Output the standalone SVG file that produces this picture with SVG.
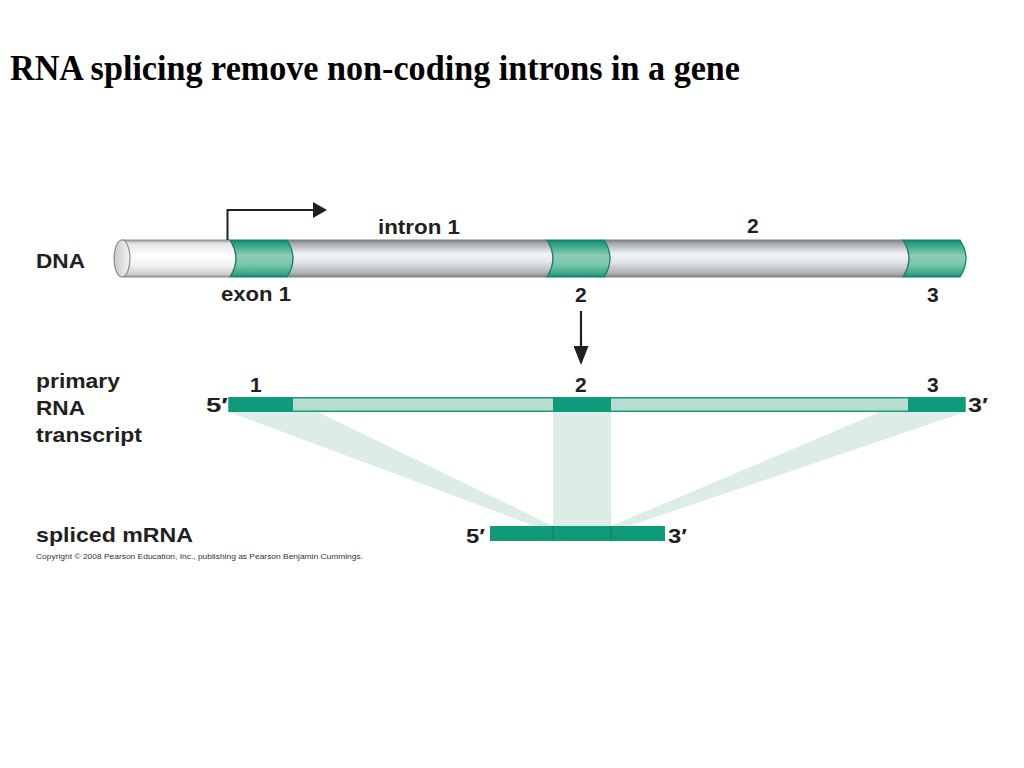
<svg xmlns="http://www.w3.org/2000/svg" width="1024" height="768" viewBox="0 0 1024 768">
  <defs>
    <style>
      .lbl { font-family: "Liberation Sans", Arial, sans-serif; font-weight: bold; font-size: 21px; fill: #231f20; }
      .title { font-family: "Liberation Serif", "Times New Roman", serif; font-weight: bold; font-size: 36px; fill: #000; }
      .copy { font-family: "Liberation Sans", Arial, sans-serif; font-size: 7.5px; fill: #333; }
      .exon { fill: url(#gGreen); stroke: #147c63; stroke-width: 1.2; }
      .intron { fill: url(#gGray); stroke: #7d8185; stroke-width: 1; }
      .rexon { fill: #0f9a7b; }
      .shade { fill: #dcede8; }
      .conn { fill: none; stroke: #231f20; }
    </style>
    <linearGradient id="gGray" x1="0" y1="0" x2="0" y2="1">
      <stop offset="0" stop-color="#7c8084"/>
      <stop offset="0.1" stop-color="#a7abae"/>
      <stop offset="0.38" stop-color="#f3f4f5"/>
      <stop offset="0.6" stop-color="#e2e4e6"/>
      <stop offset="0.88" stop-color="#b2b5b8"/>
      <stop offset="1" stop-color="#84888b"/>
    </linearGradient>
    <linearGradient id="gWhite" x1="0" y1="0" x2="0" y2="1">
      <stop offset="0" stop-color="#a0a0a0"/>
      <stop offset="0.1" stop-color="#e4e4e4"/>
      <stop offset="0.4" stop-color="#ffffff"/>
      <stop offset="0.7" stop-color="#f0f0f0"/>
      <stop offset="0.92" stop-color="#cfcfcf"/>
      <stop offset="1" stop-color="#9a9a9a"/>
    </linearGradient>
    <linearGradient id="gGreen" x1="0" y1="0" x2="0" y2="1">
      <stop offset="0" stop-color="#10866a"/>
      <stop offset="0.12" stop-color="#2ea385"/>
      <stop offset="0.42" stop-color="#8ccdb7"/>
      <stop offset="0.65" stop-color="#7ec5ad"/>
      <stop offset="0.9" stop-color="#3ea98b"/>
      <stop offset="1" stop-color="#14896d"/>
    </linearGradient>
    <linearGradient id="gEnd" x1="0" y1="0" x2="1" y2="0">
      <stop offset="0" stop-color="#c8c8c8"/>
      <stop offset="1" stop-color="#f4f4f4"/>
    </linearGradient>
    <marker id="ahR" markerWidth="14" markerHeight="16" refX="0" refY="8" orient="auto" markerUnits="userSpaceOnUse">
      <path d="M0,0 L14,8 L0,16 Z" fill="#231f20"/>
    </marker>
    <marker id="ahD" markerWidth="19" markerHeight="15" refX="0" refY="7.5" orient="auto" markerUnits="userSpaceOnUse">
      <path d="M0,0 L19,7.5 L0,15 Z" fill="#231f20"/>
    </marker>
  </defs>

  <rect width="1024" height="768" fill="#ffffff"/>

  <text id="title" class="title" x="10" y="80" textLength="730" lengthAdjust="spacingAndGlyphs">RNA splicing remove non-coding introns in a gene</text>

  <!-- splice mapping shades -->
  <g id="splice-map">
    <polygon class="shade" points="229,412 318,412 553,526 535,526"/>
    <rect class="shade" x="553" y="412" width="58" height="114"/>
    <polygon class="shade" points="880,412 965,412 629,526 611,526"/>
  </g>

  <!-- DNA -->
  <g id="dna">
    <path d="M122,240 H230 Q242,258.5 230,277 H122 Z" fill="url(#gWhite)" stroke="#8c8c8c" stroke-width="1"/>
    <ellipse cx="122" cy="258.5" rx="8" ry="18.5" fill="url(#gEnd)" stroke="#8c8c8c" stroke-width="1.2"/>
    <path class="intron" d="M287,240 H547 Q559,258.5 547,277 H287 Q299,258.5 287,240 Z"/>
    <path class="intron" d="M604,240 H903 Q915,258.5 903,277 H604 Q616,258.5 604,240 Z"/>
    <path id="dna-exon1" class="exon" d="M230,240 H287 Q299,258.5 287,277 H230 Q242,258.5 230,240 Z"/>
    <path id="dna-exon2" class="exon" d="M547,240 H604 Q616,258.5 604,277 H547 Q559,258.5 547,240 Z"/>
    <path id="dna-exon3" class="exon" d="M903,240 H960 Q972,258.5 960,277 H903 Q915,258.5 903,240 Z"/>
  </g>

  <!-- primary RNA transcript -->
  <g id="primary-transcript">
    <rect x="229" y="397.75" width="736" height="13.5" fill="#b6ddd0" stroke="#1b9b7e" stroke-width="1.5"/>
    <rect class="rexon" x="229" y="397" width="64" height="15"/>
    <rect class="rexon" x="553" y="397" width="58" height="15"/>
    <rect class="rexon" x="908" y="397" width="57" height="15"/>
  </g>

  <!-- spliced mRNA -->
  <g id="spliced-mrna">
    <rect class="rexon" x="490" y="526" width="175" height="15"/>
    <line x1="553" y1="526" x2="553" y2="541" stroke="#0b7d63" stroke-width="1"/>
    <line x1="611" y1="526" x2="611" y2="541" stroke="#0b7d63" stroke-width="1"/>
  </g>

  <!-- connectors -->
  <g id="connectors">
    <path class="conn" d="M227.5,240 V210 H313" stroke-width="2" marker-end="url(#ahR)"/>
    <path class="conn" d="M581,311 V346" stroke-width="2.2" marker-end="url(#ahD)"/>
  </g>

  <!-- labels -->
  <g id="labels">
    <text class="lbl" x="36" y="268" textLength="49" lengthAdjust="spacingAndGlyphs">DNA</text>
    <text class="lbl" x="378" y="234" textLength="82" lengthAdjust="spacingAndGlyphs">intron 1</text>
    <text class="lbl" x="747" y="233">2</text>
    <text class="lbl" x="221" y="301" textLength="70" lengthAdjust="spacingAndGlyphs">exon 1</text>
    <text class="lbl" x="575" y="302">2</text>
    <text class="lbl" x="927" y="302">3</text>

    <text class="lbl" x="36" y="388" textLength="84" lengthAdjust="spacingAndGlyphs">primary</text>
    <text class="lbl" x="36" y="415" textLength="49" lengthAdjust="spacingAndGlyphs">RNA</text>
    <text class="lbl" x="36" y="442" textLength="106" lengthAdjust="spacingAndGlyphs">transcript</text>
    <text class="lbl" x="250" y="392">1</text>
    <text class="lbl" x="575" y="392">2</text>
    <text class="lbl" x="927" y="392">3</text>
    <text class="lbl" x="206" y="412" textLength="22" lengthAdjust="spacingAndGlyphs">5′</text>
    <text class="lbl" x="968" y="412" textLength="20" lengthAdjust="spacingAndGlyphs">3′</text>

    <text class="lbl" x="36" y="542" textLength="157" lengthAdjust="spacingAndGlyphs">spliced mRNA</text>
    <text class="lbl" x="466" y="543" textLength="19" lengthAdjust="spacingAndGlyphs">5′</text>
    <text class="lbl" x="668" y="543" textLength="19" lengthAdjust="spacingAndGlyphs">3′</text>
    <text class="copy" x="36" y="559" textLength="327" lengthAdjust="spacingAndGlyphs">Copyright © 2008 Pearson Education, Inc., publishing as Pearson Benjamin Cummings.</text>
  </g>
</svg>
